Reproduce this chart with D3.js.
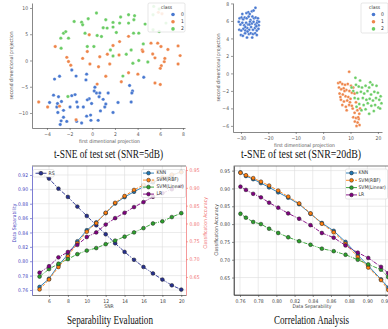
<!DOCTYPE html>
<html>
<head>
<meta charset="utf-8">
<script src="https://cdn.jsdelivr.net/npm/d3@7/dist/d3.min.js"></script>
<style>
  body { margin: 0; background: #fff; }
  svg { display: block; }
</style>
</head>
<body>
<svg id="fig" width="388" height="329"></svg>
<script>
// ---- t-SNE, SNR = 5dB : [x, y] per point, one list per class
const tsne5Class0 = [
  [4.54,-3.2],[-1.81,-1.82],[-1.43,-2.97],[-0.5,-2.6],[-0.56,-3.7],[-3.33,-3.55],[-2.89,-3.0],[3.29,-4.76],
  [3.55,-5.8],[3.49,-6.2],[3.43,-7.9],[2.27,-8.0],[-3.42,-6.6],[-2.98,-6.9],[-2.72,-7.8],[-3.77,-8.0],
  [-3.07,-8.2],[-3.13,-8.85],[-2.54,-9.5],[-3.04,-9.9],[-2.75,-11.5],[-2.83,-12.2],[-2.25,-11.6],[-1.81,-6.7],
  [-1.52,-6.5],[-1.37,-7.9],[-1.29,-8.85],[-1.96,-8.85],[-0.79,-8.85],[-0.27,-7.3],[-0.06,-8.2],[-0.15,-10.4],
  [-0.5,-10.6],[-0.94,-11.9],[-0.12,-11.4],[0.52,-11.4],[0.23,-5.1],[0.37,-6.2],[0.66,-6.2],[0.96,-7.4],
  [0.6,-6.9],[1.1,-8.85],[1.19,-8.3],[1.4,-6.2],[0.72,-9.6],[1.83,-9.9],[0.17,-5.8],[-1.38,-11.6],
  [-2.54,-10.8],[-0.44,-7.5]
];
const tsne5Class1 = [
  [-4.73,-7.9],[-3.94,-8.85],[-2.89,-8.7],[-1.43,-11.3],[-3.27,2.65],[-2.25,0.6],[-2.1,-0.2],[-1.9,-0.9],
  [-0.85,0.4],[-0.44,1.7],[-0.27,4.9],[-0.21,-0.67],[0.55,-1.2],[0.66,0.7],[1.33,1.2],[1.54,-0.67],
  [1.19,-3.0],[0.43,-4.5],[1.83,2.85],[2.36,1.05],[2.41,3.6],[3.2,4.6],[3.2,-2.33],[2.56,-4.06],
  [4.02,-2.6],[4.4,2.0],[4.46,1.7],[5.18,3.3],[5.33,1.24],[5.77,3.3],[5.53,0.5],[6.06,2.65],
  [6.09,-0.99],[6.35,-0.22],[6.4,0.4],[6.67,2.1],[6.0,-1.5],[5.53,-4.3],[6.0,-4.57],[7.57,2.78],
  [7.75,0.93],[7.57,-0.67],[5.83,9.17],[6.15,8.9]
];
const tsne5Class2 = [
  [-2.78,4.25],[-2.54,5.2],[-2.34,5.5],[-2.1,4.25],[-2.75,2.33],[-1.6,7.44],[-0.94,7.3],[-0.85,6.8],
  [-0.64,5.2],[-0.36,7.96],[0.37,9.04],[0.43,4.76],[0.81,4.57],[0.96,6.23],[1.19,7.76],[1.31,6.17],
  [1.83,6.36],[1.83,7.25],[2.12,5.34],[2.5,8.27],[2.41,7.12],[3.2,8.72],[3.2,7.12],[3.67,7.76],
  [3.73,8.53],[3.64,5.21],[4.1,5.21],[4.66,6.93],[5.42,10.3],[5.36,8.72],[5.9,9.8],[5.36,5.85],
  [5.9,5.53],[6.5,7.12],[1.83,0.86],[1.6,2.0],[3.0,1.18],[3.43,2.0],[3.58,-0.54],[4.1,0.0],
  [4.5,3.16],[4.9,-0.29],[-0.44,2.65],[0.14,2.65],[-2.15,-6.87],[2.7,-2.97]
];

// ---- t-SNE, SNR = 20dB
const tsne20Class0 = [
  [-30.5,6.3],[-29.8,6.4],[-29.2,6.2],[-28.6,6.4],[-27.9,6.3],[-27.2,6.5],[-26.5,6.1],[-25.8,6.5],[-25.2,6.3],
  [-24.6,6.4],[-24.0,6.0],[-30.2,5.6],[-29.5,5.8],[-28.8,5.5],[-28.1,5.8],[-27.4,5.6],[-26.7,5.9],[-26.0,5.7],
  [-25.4,5.9],[-24.7,5.6],[-24.1,5.8],[-23.5,5.5],[-30.6,5.0],[-29.9,4.9],[-29.1,5.1],[-28.4,4.9],[-27.7,5.2],
  [-27.0,5.0],[-26.3,5.3],[-25.6,5.0],[-24.9,5.2],[-24.2,4.9],[-23.6,5.1],[-30.0,4.4],[-29.3,4.3],[-28.5,4.6],
  [-27.8,4.1],[-27.1,4.5],[-26.4,4.6],[-25.6,4.5],[-24.8,4.6],[-24.2,4.4],[-29.5,6.8],[-28.0,6.9],[-27.3,7.0],
  [-26.0,7.1],[-25.4,7.2],[-24.7,7.5],[-26.8,6.8],[-23.8,6.3],[-23.4,5.9],[-30.8,5.9],[-28.4,5.3],[-25.9,4.1],
  [-26.9,5.6],[-24.4,5.4],[-27.6,4.8]
];
const tsne20Class1 = [
  [9.5,0.2],[5.5,-1.1],[6.2,-1.0],[7.0,-1.2],[8.0,-1.3],[9.0,-1.2],[10.2,-1.4],[11.0,-1.6],[5.8,-1.6],
  [6.6,-1.8],[7.5,-1.7],[8.5,-1.9],[9.6,-2.0],[10.5,-2.2],[6.0,-2.3],[7.2,-2.4],[8.2,-2.6],[9.2,-2.7],
  [11.5,-2.3],[6.5,-3.0],[7.6,-3.2],[8.8,-3.1],[10.0,-2.9],[7.0,-3.6],[8.3,-3.8],[9.5,-3.6],[12.0,-3.3],
  [8.6,-4.2],[10.8,-4.0],[12.5,-4.2],[11.5,-4.5],[13.2,-4.6],[11.0,-5.0],[12.0,-5.1],[13.0,-5.2],[11.6,-5.5],
  [12.6,-5.6],[13.3,-5.9],[12.2,-6.0],[7.8,-2.0],[6.3,-2.7],[9.8,-3.3],[13.5,-4.0],[10.5,-3.7],[12.8,-5.0]
];
const tsne20Class2 = [
  [11.8,-0.5],[13.5,-0.8],[12.0,-1.3],[13.0,-1.5],[14.2,-1.6],[15.5,-1.4],[16.8,-1.6],[18.0,-1.3],[19.5,-1.4],
  [11.0,-2.0],[12.4,-2.2],[13.8,-2.1],[15.0,-2.3],[16.2,-2.0],[17.5,-2.4],[18.7,-2.1],[20.0,-2.2],[21.0,-2.6],
  [11.5,-2.8],[12.8,-2.9],[14.5,-2.8],[15.8,-3.0],[17.0,-2.9],[18.2,-3.1],[19.3,-2.8],[20.5,-3.0],[21.3,-3.4],
  [13.2,-3.5],[14.8,-3.6],[16.3,-3.4],[17.6,-3.7],[19.0,-3.6],[20.2,-3.9],[14.0,-4.2],[15.5,-4.1],[18.5,-4.3],
  [16.8,-4.6],[20.8,-4.0],[10.4,-1.6],[12.2,-3.8],[17.2,-1.0]
];

// ---- separability / accuracy vs SNR
const snr = [5, 6, 7, 8, 9, 10, 11, 12, 13, 14, 15, 16, 17, 18, 19, 20];
const rs = [0.923, 0.915, 0.901, 0.8895, 0.876, 0.863, 0.850, 0.8375, 0.825, 0.813, 0.802, 0.792, 0.783, 0.7745, 0.7665, 0.7605];
const accKNN = [0.622, 0.645, 0.683, 0.713, 0.750, 0.781, 0.803, 0.829, 0.856, 0.874, 0.889, 0.903, 0.915, 0.926, 0.935, 0.945];
const accSVMRBF = [0.615, 0.643, 0.678, 0.708, 0.745, 0.777, 0.801, 0.830, 0.858, 0.877, 0.894, 0.908, 0.919, 0.929, 0.937, 0.944];
const accSVMLin = [0.651, 0.672, 0.687, 0.700, 0.714, 0.724, 0.731, 0.742, 0.752, 0.763, 0.775, 0.787, 0.800, 0.806, 0.818, 0.829];
const accLR = [0.662, 0.680, 0.705, 0.720, 0.740, 0.762, 0.775, 0.797, 0.815, 0.830, 0.846, 0.860, 0.875, 0.885, 0.896, 0.905];

const classNames = ['0', '1', '2'];
const classColors = ['#4878d0', '#ee854a', '#6acc64'];
const modelNames = ['KNN', 'SVM(RBF)', 'SVM(Linear)', 'LR'];

// the figure is squeezed sideways, so small text uses a condensed face
const SANS = 'DejaVu Sans Condensed, DejaVu Sans, sans-serif';
const SERIF = 'Liberation Serif, Times New Roman, serif';
const FS = 5;
const svg = d3.select('#fig');

function styleAxis(g, color) {
  g.selectAll('text').attr('font-size', FS).attr('font-family', SANS)
    .attr('font-stretch', 'condensed').attr('fill', color);
  g.selectAll('line').attr('stroke', color).attr('stroke-width', 0.6);
  g.select('.domain').attr('stroke', color).attr('stroke-width', 0.7);
}

function smallText(x, y, txt, opts = {}) {
  const t = svg.append('text')
    .attr('x', x).attr('y', y)
    .attr('font-family', SANS).attr('font-stretch', 'condensed')
    .attr('font-size', opts.size || FS)
    .attr('fill', opts.color || '#444')
    .attr('text-anchor', opts.anchor || 'middle')
    .attr('dominant-baseline', 'middle')
    .text(txt);
  if (opts.rotate) t.attr('transform', `rotate(-90,${x},${y})`);
  return t;
}

function title(x, y, txt, len) {
  svg.append('text')
    .attr('x', x).attr('y', y)
    .attr('font-family', SERIF).attr('font-size', 11.5)
    .attr('text-anchor', 'middle')
    .attr('textLength', len).attr('lengthAdjust', 'spacingAndGlyphs')
    .attr('fill', '#111')
    .text(txt);
}

// ---- scatter panel (t-SNE)
function scatterPanel(o) {
  const x = d3.scaleLinear().domain(o.xDom).range([o.left, o.right]);
  const y = d3.scaleLinear().domain(o.yDom).range([o.bottom, o.top]);
  const g = svg.append('g');

  g.append('g').attr('transform', `translate(0,${o.bottom})`)
    .call(d3.axisBottom(x).tickValues(o.xTicks).tickSize(2).tickSizeOuter(0).tickPadding(2)
      .tickFormat(d => d < 0 ? '\u2212' + Math.abs(d) : d))
    .call(styleAxis, '#555');
  g.append('g').attr('transform', `translate(${o.left},0)`)
    .call(d3.axisLeft(y).tickValues(o.yTicks).tickSize(2).tickSizeOuter(0).tickPadding(2)
      .tickFormat(d => d < 0 ? '\u2212' + Math.abs(d) : d))
    .call(styleAxis, '#555');

  o.classes.forEach((pts, i) => {
    g.append('g').selectAll('circle')
      .data(pts)
      .join('circle')
      .attr('cx', d => x(d[0]))
      .attr('cy', d => y(d[1]))
      .attr('r', o.r)
      .attr('fill', classColors[i])
      .attr('stroke', '#fff')
      .attr('stroke-width', 0.3);
  });

  // legend
  const L = o.legend;
  g.append('rect').attr('x', L.x).attr('y', L.y).attr('width', L.w).attr('height', L.h)
    .attr('rx', 1.5).attr('fill', '#fff').attr('fill-opacity', 0.85)
    .attr('stroke', '#ccc').attr('stroke-width', 0.5);
  smallText(L.x + L.w / 2, L.y + 4.5, 'class', { color: '#333' });
  classNames.forEach((c, i) => {
    const yy = L.y + 11.5 + i * 7.2;
    g.append('circle').attr('cx', L.mx).attr('cy', yy).attr('r', 1.8).attr('fill', classColors[i]);
    smallText(L.tx, yy, c, { color: '#333', anchor: 'start' });
  });

  smallText((o.left + o.right) / 2 + o.xlabDx, o.bottom + 13.5, 'first dimentional projection', { color: '#555' });
  smallText(o.ylabX, (o.top + o.bottom) / 2, 'second dimentional projection', { color: '#555', rotate: true });
}

scatterPanel({
  left: 32, right: 185, top: 3, bottom: 128,
  xDom: [-5.32, 8.18], yDom: [-12.86, 10.95],
  xTicks: [-4, -2, 0, 2, 4, 6, 8], yTicks: [-10, -5, 0, 5, 10],
  classes: [tsne5Class0, tsne5Class1, tsne5Class2], r: 1.7,
  legend: { x: 148, y: 3, w: 37, h: 29, mx: 173, tx: 181 },
  xlabDx: 1, ylabX: 11.5
});
title(108.5, 158, 't-SNE  of test set (SNR=5dB)', 109);

scatterPanel({
  left: 233, right: 382, top: 3, bottom: 132,
  xDom: [-32.9, 21.5], yDom: [-6.7, 8.05],
  xTicks: [-30, -20, -10, 0, 10, 20], yTicks: [-6, -4, -2, 0, 2, 4, 6, 8],
  classes: [tsne20Class0, tsne20Class1, tsne20Class2], r: 1.5,
  legend: { x: 361, y: 3, w: 27, h: 30, mx: 373.5, tx: 381 },
  xlabDx: -3, ylabX: 219
});
title(301, 158, 't-SNE of test set (SNR=20dB)', 120);

// ---- line styles shared by panels 3 and 4
const models = [
  { name: modelNames[0], acc: accKNN, color: '#1f77b4', dash: null },
  { name: modelNames[1], acc: accSVMRBF, color: '#ff7f0e', dash: '3,1.5' },
  { name: modelNames[2], acc: accSVMLin, color: '#2ca02c', dash: '4,1.2,1,1.2' },
  { name: modelNames[3], acc: accLR, color: '#800080', dash: '4,1.2,1,1.2' }
];

function drawSeries(g, xs, ys, x, y, color, dash) {
  const pts = xs.map((v, i) => [x(v), y(ys[i])]);
  g.append('path').attr('d', d3.line()(pts))
    .attr('fill', 'none').attr('stroke', color).attr('stroke-width', 0.9)
    .attr('stroke-dasharray', dash);
  g.append('g').selectAll('circle').data(pts).join('circle')
    .attr('cx', d => d[0]).attr('cy', d => d[1]).attr('r', 1.9)
    .attr('fill', color).attr('stroke', '#222').attr('stroke-width', 0.5);
}

function legendBox(g, x, y, w, h, entries, mx, tx, dy, y0) {
  g.append('rect').attr('x', x).attr('y', y).attr('width', w).attr('height', h)
    .attr('rx', 1.5).attr('fill', '#fff').attr('fill-opacity', 0.85)
    .attr('stroke', '#ccc').attr('stroke-width', 0.5);
  entries.forEach((e, i) => {
    const yy = y + y0 + i * dy;
    g.append('line').attr('x1', mx - 5.5).attr('x2', mx + 5.5).attr('y1', yy).attr('y2', yy)
      .attr('stroke', e.color).attr('stroke-width', 0.9).attr('stroke-dasharray', e.dash);
    g.append('circle').attr('cx', mx).attr('cy', yy).attr('r', 1.9)
      .attr('fill', e.color).attr('stroke', '#222').attr('stroke-width', 0.5);
    smallText(tx, yy, e.name, { color: '#333', anchor: 'start' });
  });
}

// ---- panel 3: Separability Evaluation
{
  const left = 32, right = 186, top = 166, bottom = 295;
  const x = d3.scaleLinear().domain([4.2, 20.5]).range([left, right]);
  const yL = d3.scaleLinear().domain([0.753, 0.9325]).range([bottom, top]);
  const yR = d3.scaleLinear().domain([0.5994, 0.9612]).range([bottom, top]);
  const g = svg.append('g');
  const xT = [6, 8, 10, 12, 14, 16, 18, 20];
  const yT = [0.76, 0.78, 0.80, 0.82, 0.84, 0.86, 0.88, 0.90, 0.92];

  g.append('g').selectAll('line').data(xT).join('line')
    .attr('x1', d => x(d)).attr('x2', d => x(d)).attr('y1', top).attr('y2', bottom)
    .attr('stroke', '#ddd').attr('stroke-width', 0.6);
  g.append('g').selectAll('line').data(yT).join('line')
    .attr('x1', left).attr('x2', right).attr('y1', d => yL(d)).attr('y2', d => yL(d))
    .attr('stroke', '#ddd').attr('stroke-width', 0.6);
  g.append('line').attr('x1', left).attr('x2', right).attr('y1', top).attr('y2', top)
    .attr('stroke', '#444').attr('stroke-width', 0.7);

  g.append('g').attr('transform', `translate(0,${bottom})`)
    .call(d3.axisBottom(x).tickValues(xT).tickSize(2).tickSizeOuter(0).tickPadding(2))
    .call(styleAxis, '#444');
  g.append('g').attr('transform', `translate(${left},0)`)
    .call(d3.axisLeft(yL).tickValues(yT).tickFormat(d3.format('.2f')).tickSize(2).tickSizeOuter(0).tickPadding(2))
    .call(styleAxis, '#4545c0');
  g.append('g').attr('transform', `translate(${right},0)`)
    .call(d3.axisRight(yR).tickValues([0.65, 0.70, 0.75, 0.80, 0.85, 0.90, 0.95]).tickFormat(d3.format('.2f'))
      .tickSize(2).tickSizeOuter(0).tickPadding(1.5))
    .call(styleAxis, '#f07070');

  drawSeries(g, snr, rs, x, yL, '#26308f', '4,1.2,1,1.2');
  models.forEach(m => drawSeries(g, snr, m.acc, x, yR, m.color, m.dash));

  legendBox(g, 33, 169.5, 21, 7.5, [{ name: 'RS', color: '#26308f', dash: '4,1.2,1,1.2' }], 41, 48.5, 0, 3.75);
  legendBox(g, 141.5, 169.5, 44, 28, models, 148.5, 156.5, 7, 3.6);

  smallText((left + right) / 2, 307, 'SNR', { color: '#444' });
  smallText(14.5, 223, 'Data Separability', { color: '#4545c0', rotate: true });
  smallText(206, 223, 'Classification Accuracy', { color: '#f07070', rotate: true });
  title(110, 324, 'Separability Evaluation', 86);
}

// ---- panel 4: Correlation Analysis
{
  const left = 234, right = 391, top = 166, bottom = 295;
  const x = d3.scaleLinear().domain([0.7534, 0.926]).range([left, right]);
  const y = d3.scaleLinear().domain([0.601, 0.963]).range([bottom, top]);
  const g = svg.append('g');
  const xT = [0.76, 0.78, 0.80, 0.82, 0.84, 0.86, 0.88, 0.90, 0.92];
  const yT = [0.65, 0.70, 0.75, 0.80, 0.85, 0.90, 0.95];

  g.append('g').selectAll('line').data(xT).join('line')
    .attr('x1', d => x(d)).attr('x2', d => x(d)).attr('y1', top).attr('y2', bottom)
    .attr('stroke', '#ddd').attr('stroke-width', 0.6);
  g.append('g').selectAll('line').data(yT).join('line')
    .attr('x1', left).attr('x2', right).attr('y1', d => y(d)).attr('y2', d => y(d))
    .attr('stroke', '#ddd').attr('stroke-width', 0.6);
  g.append('rect').attr('x', left).attr('y', top).attr('width', right - left).attr('height', bottom - top)
    .attr('fill', 'none').attr('stroke', '#444').attr('stroke-width', 0.7);

  g.append('g').attr('transform', `translate(0,${bottom})`)
    .call(d3.axisBottom(x).tickValues(xT).tickFormat(d3.format('.2f')).tickSize(2).tickSizeOuter(0).tickPadding(2))
    .call(styleAxis, '#444');
  g.append('g').attr('transform', `translate(${left},0)`)
    .call(d3.axisLeft(y).tickValues(yT).tickFormat(d3.format('.2f')).tickSize(2).tickSizeOuter(0).tickPadding(2))
    .call(styleAxis, '#444');

  models.forEach(m => drawSeries(g, rs, m.acc, x, y, m.color, m.dash));

  legendBox(g, 345.5, 169, 42, 30, models, 351.5, 358.5, 7.3, 4);

  smallText(312, 307, 'Data Separability', { color: '#444' });
  smallText(216.5, 230, 'Classification Accuracy', { color: '#444', rotate: true });
  title(311.5, 324, 'Correlation Analysis', 75);
}
</script>
</body>
</html>
